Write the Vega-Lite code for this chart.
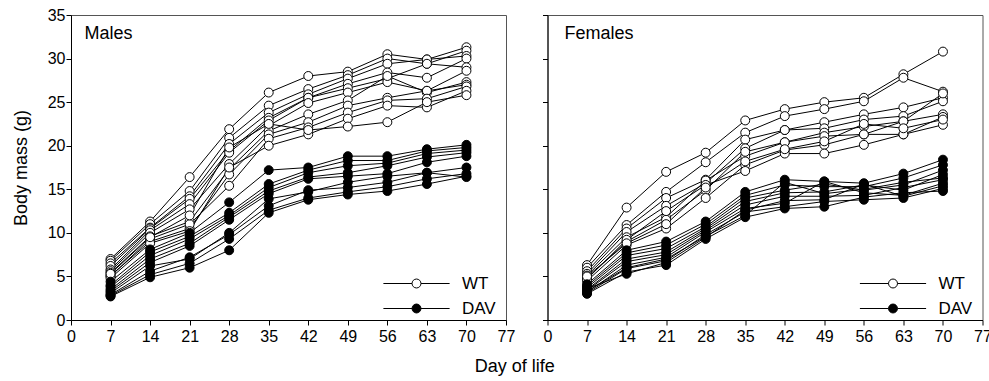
{
"$schema": "https://vega.github.io/schema/vega-lite/v6.json",
"padding": {"left": 11, "top": 6, "right": 0, "bottom": 5},
"title": {"text": "Day of life", "orient": "bottom", "anchor": "middle", "fontSize": 18, "fontWeight": "normal", "font": "Liberation Sans", "color": "black", "offset": 13, "dx": 13},
"spacing": 25.5,
"data": {"values": [
{"sex":"Males","geno":"WT","id":"mw1","day":7,"mass":7.0},{"sex":"Males","geno":"WT","id":"mw1","day":14,"mass":11.3},{"sex":"Males","geno":"WT","id":"mw1","day":21,"mass":16.4},{"sex":"Males","geno":"WT","id":"mw1","day":28,"mass":21.9},{"sex":"Males","geno":"WT","id":"mw1","day":35,"mass":26.1},{"sex":"Males","geno":"WT","id":"mw1","day":42,"mass":28.0},{"sex":"Males","geno":"WT","id":"mw1","day":49,"mass":28.5},{"sex":"Males","geno":"WT","id":"mw1","day":56,"mass":30.5},{"sex":"Males","geno":"WT","id":"mw1","day":63,"mass":29.9},{"sex":"Males","geno":"WT","id":"mw1","day":70,"mass":31.3},
{"sex":"Males","geno":"WT","id":"mw2","day":7,"mass":6.8},{"sex":"Males","geno":"WT","id":"mw2","day":14,"mass":11.0},{"sex":"Males","geno":"WT","id":"mw2","day":21,"mass":14.8},{"sex":"Males","geno":"WT","id":"mw2","day":28,"mass":20.9},{"sex":"Males","geno":"WT","id":"mw2","day":35,"mass":24.6},{"sex":"Males","geno":"WT","id":"mw2","day":42,"mass":26.5},{"sex":"Males","geno":"WT","id":"mw2","day":49,"mass":28.1},{"sex":"Males","geno":"WT","id":"mw2","day":56,"mass":30.0},{"sex":"Males","geno":"WT","id":"mw2","day":63,"mass":29.4},{"sex":"Males","geno":"WT","id":"mw2","day":70,"mass":30.9},
{"sex":"Males","geno":"WT","id":"mw3","day":7,"mass":6.5},{"sex":"Males","geno":"WT","id":"mw3","day":14,"mass":10.6},{"sex":"Males","geno":"WT","id":"mw3","day":21,"mass":14.2},{"sex":"Males","geno":"WT","id":"mw3","day":28,"mass":20.2},{"sex":"Males","geno":"WT","id":"mw3","day":35,"mass":23.8},{"sex":"Males","geno":"WT","id":"mw3","day":42,"mass":25.9},{"sex":"Males","geno":"WT","id":"mw3","day":49,"mass":27.7},{"sex":"Males","geno":"WT","id":"mw3","day":56,"mass":29.4},{"sex":"Males","geno":"WT","id":"mw3","day":63,"mass":29.9},{"sex":"Males","geno":"WT","id":"mw3","day":70,"mass":30.3},
{"sex":"Males","geno":"WT","id":"mw4","day":7,"mass":6.2},{"sex":"Males","geno":"WT","id":"mw4","day":14,"mass":10.5},{"sex":"Males","geno":"WT","id":"mw4","day":21,"mass":13.9},{"sex":"Males","geno":"WT","id":"mw4","day":28,"mass":19.4},{"sex":"Males","geno":"WT","id":"mw4","day":35,"mass":23.2},{"sex":"Males","geno":"WT","id":"mw4","day":42,"mass":25.5},{"sex":"Males","geno":"WT","id":"mw4","day":49,"mass":27.1},{"sex":"Males","geno":"WT","id":"mw4","day":56,"mass":28.4},{"sex":"Males","geno":"WT","id":"mw4","day":63,"mass":27.8},{"sex":"Males","geno":"WT","id":"mw4","day":70,"mass":30.0},
{"sex":"Males","geno":"WT","id":"mw5","day":7,"mass":5.8},{"sex":"Males","geno":"WT","id":"mw5","day":14,"mass":10.3},{"sex":"Males","geno":"WT","id":"mw5","day":21,"mass":13.3},{"sex":"Males","geno":"WT","id":"mw5","day":28,"mass":19.2},{"sex":"Males","geno":"WT","id":"mw5","day":35,"mass":22.9},{"sex":"Males","geno":"WT","id":"mw5","day":42,"mass":25.5},{"sex":"Males","geno":"WT","id":"mw5","day":49,"mass":26.6},{"sex":"Males","geno":"WT","id":"mw5","day":56,"mass":27.7},{"sex":"Males","geno":"WT","id":"mw5","day":63,"mass":29.4},{"sex":"Males","geno":"WT","id":"mw5","day":70,"mass":29.0},
{"sex":"Males","geno":"WT","id":"mw6","day":7,"mass":5.6},{"sex":"Males","geno":"WT","id":"mw6","day":14,"mass":10.0},{"sex":"Males","geno":"WT","id":"mw6","day":21,"mass":12.7},{"sex":"Males","geno":"WT","id":"mw6","day":28,"mass":17.9},{"sex":"Males","geno":"WT","id":"mw6","day":35,"mass":22.3},{"sex":"Males","geno":"WT","id":"mw6","day":42,"mass":24.9},{"sex":"Males","geno":"WT","id":"mw6","day":49,"mass":26.1},{"sex":"Males","geno":"WT","id":"mw6","day":56,"mass":27.3},{"sex":"Males","geno":"WT","id":"mw6","day":63,"mass":26.3},{"sex":"Males","geno":"WT","id":"mw6","day":70,"mass":28.6},
{"sex":"Males","geno":"WT","id":"mw7","day":7,"mass":5.4},{"sex":"Males","geno":"WT","id":"mw7","day":14,"mass":9.6},{"sex":"Males","geno":"WT","id":"mw7","day":21,"mass":11.3},{"sex":"Males","geno":"WT","id":"mw7","day":28,"mass":17.3},{"sex":"Males","geno":"WT","id":"mw7","day":35,"mass":21.7},{"sex":"Males","geno":"WT","id":"mw7","day":42,"mass":23.6},{"sex":"Males","geno":"WT","id":"mw7","day":49,"mass":25.2},{"sex":"Males","geno":"WT","id":"mw7","day":56,"mass":28.0},{"sex":"Males","geno":"WT","id":"mw7","day":63,"mass":26.1},{"sex":"Males","geno":"WT","id":"mw7","day":70,"mass":27.3},
{"sex":"Males","geno":"WT","id":"mw8","day":7,"mass":5.1},{"sex":"Males","geno":"WT","id":"mw8","day":14,"mass":9.0},{"sex":"Males","geno":"WT","id":"mw8","day":21,"mass":10.5},{"sex":"Males","geno":"WT","id":"mw8","day":28,"mass":16.7},{"sex":"Males","geno":"WT","id":"mw8","day":35,"mass":21.3},{"sex":"Males","geno":"WT","id":"mw8","day":42,"mass":22.7},{"sex":"Males","geno":"WT","id":"mw8","day":49,"mass":24.6},{"sex":"Males","geno":"WT","id":"mw8","day":56,"mass":25.5},{"sex":"Males","geno":"WT","id":"mw8","day":63,"mass":26.3},{"sex":"Males","geno":"WT","id":"mw8","day":70,"mass":27.0},
{"sex":"Males","geno":"WT","id":"mw9","day":7,"mass":5.0},{"sex":"Males","geno":"WT","id":"mw9","day":14,"mass":9.3},{"sex":"Males","geno":"WT","id":"mw9","day":21,"mass":11.0},{"sex":"Males","geno":"WT","id":"mw9","day":28,"mass":15.4},{"sex":"Males","geno":"WT","id":"mw9","day":35,"mass":20.8},{"sex":"Males","geno":"WT","id":"mw9","day":42,"mass":22.1},{"sex":"Males","geno":"WT","id":"mw9","day":49,"mass":23.8},{"sex":"Males","geno":"WT","id":"mw9","day":56,"mass":25.2},{"sex":"Males","geno":"WT","id":"mw9","day":63,"mass":25.4},{"sex":"Males","geno":"WT","id":"mw9","day":70,"mass":26.8},
{"sex":"Males","geno":"WT","id":"mw10","day":7,"mass":4.8},{"sex":"Males","geno":"WT","id":"mw10","day":14,"mass":8.8},{"sex":"Males","geno":"WT","id":"mw10","day":21,"mass":10.2},{"sex":"Males","geno":"WT","id":"mw10","day":28,"mass":17.5},{"sex":"Males","geno":"WT","id":"mw10","day":35,"mass":20.0},{"sex":"Males","geno":"WT","id":"mw10","day":42,"mass":21.3},{"sex":"Males","geno":"WT","id":"mw10","day":49,"mass":23.1},{"sex":"Males","geno":"WT","id":"mw10","day":56,"mass":24.6},{"sex":"Males","geno":"WT","id":"mw10","day":63,"mass":24.4},{"sex":"Males","geno":"WT","id":"mw10","day":70,"mass":26.3},
{"sex":"Males","geno":"WT","id":"mw11","day":7,"mass":5.3},{"sex":"Males","geno":"WT","id":"mw11","day":14,"mass":9.5},{"sex":"Males","geno":"WT","id":"mw11","day":21,"mass":12.0},{"sex":"Males","geno":"WT","id":"mw11","day":28,"mass":19.8},{"sex":"Males","geno":"WT","id":"mw11","day":35,"mass":22.5},{"sex":"Males","geno":"WT","id":"mw11","day":42,"mass":21.8},{"sex":"Males","geno":"WT","id":"mw11","day":49,"mass":22.2},{"sex":"Males","geno":"WT","id":"mw11","day":56,"mass":22.7},{"sex":"Males","geno":"WT","id":"mw11","day":63,"mass":25.0},{"sex":"Males","geno":"WT","id":"mw11","day":70,"mass":25.8},
{"sex":"Males","geno":"DAV","id":"md1","day":7,"mass":4.4},{"sex":"Males","geno":"DAV","id":"md1","day":14,"mass":8.1},{"sex":"Males","geno":"DAV","id":"md1","day":21,"mass":10.0},{"sex":"Males","geno":"DAV","id":"md1","day":28,"mass":13.5},{"sex":"Males","geno":"DAV","id":"md1","day":35,"mass":17.2},{"sex":"Males","geno":"DAV","id":"md1","day":42,"mass":17.5},{"sex":"Males","geno":"DAV","id":"md1","day":49,"mass":18.8},{"sex":"Males","geno":"DAV","id":"md1","day":56,"mass":18.8},{"sex":"Males","geno":"DAV","id":"md1","day":63,"mass":19.6},{"sex":"Males","geno":"DAV","id":"md1","day":70,"mass":20.1},
{"sex":"Males","geno":"DAV","id":"md2","day":7,"mass":4.0},{"sex":"Males","geno":"DAV","id":"md2","day":14,"mass":7.8},{"sex":"Males","geno":"DAV","id":"md2","day":21,"mass":9.6},{"sex":"Males","geno":"DAV","id":"md2","day":28,"mass":12.3},{"sex":"Males","geno":"DAV","id":"md2","day":35,"mass":15.6},{"sex":"Males","geno":"DAV","id":"md2","day":42,"mass":17.2},{"sex":"Males","geno":"DAV","id":"md2","day":49,"mass":18.3},{"sex":"Males","geno":"DAV","id":"md2","day":56,"mass":18.3},{"sex":"Males","geno":"DAV","id":"md2","day":63,"mass":19.4},{"sex":"Males","geno":"DAV","id":"md2","day":70,"mass":19.8},
{"sex":"Males","geno":"DAV","id":"md3","day":7,"mass":3.8},{"sex":"Males","geno":"DAV","id":"md3","day":14,"mass":7.4},{"sex":"Males","geno":"DAV","id":"md3","day":21,"mass":9.3},{"sex":"Males","geno":"DAV","id":"md3","day":28,"mass":12.0},{"sex":"Males","geno":"DAV","id":"md3","day":35,"mass":15.2},{"sex":"Males","geno":"DAV","id":"md3","day":42,"mass":16.9},{"sex":"Males","geno":"DAV","id":"md3","day":49,"mass":17.7},{"sex":"Males","geno":"DAV","id":"md3","day":56,"mass":18.0},{"sex":"Males","geno":"DAV","id":"md3","day":63,"mass":19.1},{"sex":"Males","geno":"DAV","id":"md3","day":70,"mass":19.5},
{"sex":"Males","geno":"DAV","id":"md4","day":7,"mass":3.5},{"sex":"Males","geno":"DAV","id":"md4","day":14,"mass":7.0},{"sex":"Males","geno":"DAV","id":"md4","day":21,"mass":8.8},{"sex":"Males","geno":"DAV","id":"md4","day":28,"mass":11.8},{"sex":"Males","geno":"DAV","id":"md4","day":35,"mass":14.8},{"sex":"Males","geno":"DAV","id":"md4","day":42,"mass":16.4},{"sex":"Males","geno":"DAV","id":"md4","day":49,"mass":16.9},{"sex":"Males","geno":"DAV","id":"md4","day":56,"mass":17.7},{"sex":"Males","geno":"DAV","id":"md4","day":63,"mass":18.7},{"sex":"Males","geno":"DAV","id":"md4","day":70,"mass":19.2},
{"sex":"Males","geno":"DAV","id":"md5","day":7,"mass":3.3},{"sex":"Males","geno":"DAV","id":"md5","day":14,"mass":6.6},{"sex":"Males","geno":"DAV","id":"md5","day":21,"mass":8.5},{"sex":"Males","geno":"DAV","id":"md5","day":28,"mass":11.5},{"sex":"Males","geno":"DAV","id":"md5","day":35,"mass":14.5},{"sex":"Males","geno":"DAV","id":"md5","day":42,"mass":16.2},{"sex":"Males","geno":"DAV","id":"md5","day":49,"mass":16.5},{"sex":"Males","geno":"DAV","id":"md5","day":56,"mass":16.8},{"sex":"Males","geno":"DAV","id":"md5","day":63,"mass":18.1},{"sex":"Males","geno":"DAV","id":"md5","day":70,"mass":18.8},
{"sex":"Males","geno":"DAV","id":"md6","day":7,"mass":3.1},{"sex":"Males","geno":"DAV","id":"md6","day":14,"mass":6.2},{"sex":"Males","geno":"DAV","id":"md6","day":21,"mass":7.0},{"sex":"Males","geno":"DAV","id":"md6","day":28,"mass":10.0},{"sex":"Males","geno":"DAV","id":"md6","day":35,"mass":13.9},{"sex":"Males","geno":"DAV","id":"md6","day":42,"mass":14.7},{"sex":"Males","geno":"DAV","id":"md6","day":49,"mass":15.8},{"sex":"Males","geno":"DAV","id":"md6","day":56,"mass":16.5},{"sex":"Males","geno":"DAV","id":"md6","day":63,"mass":16.9},{"sex":"Males","geno":"DAV","id":"md6","day":70,"mass":17.5},
{"sex":"Males","geno":"DAV","id":"md7","day":7,"mass":2.9},{"sex":"Males","geno":"DAV","id":"md7","day":14,"mass":5.6},{"sex":"Males","geno":"DAV","id":"md7","day":21,"mass":7.2},{"sex":"Males","geno":"DAV","id":"md7","day":28,"mass":9.8},{"sex":"Males","geno":"DAV","id":"md7","day":35,"mass":13.1},{"sex":"Males","geno":"DAV","id":"md7","day":42,"mass":14.9},{"sex":"Males","geno":"DAV","id":"md7","day":49,"mass":15.2},{"sex":"Males","geno":"DAV","id":"md7","day":56,"mass":15.8},{"sex":"Males","geno":"DAV","id":"md7","day":63,"mass":16.9},{"sex":"Males","geno":"DAV","id":"md7","day":70,"mass":16.4},
{"sex":"Males","geno":"DAV","id":"md8","day":7,"mass":2.8},{"sex":"Males","geno":"DAV","id":"md8","day":14,"mass":5.2},{"sex":"Males","geno":"DAV","id":"md8","day":21,"mass":6.5},{"sex":"Males","geno":"DAV","id":"md8","day":28,"mass":9.3},{"sex":"Males","geno":"DAV","id":"md8","day":35,"mass":12.6},{"sex":"Males","geno":"DAV","id":"md8","day":42,"mass":14.0},{"sex":"Males","geno":"DAV","id":"md8","day":49,"mass":14.7},{"sex":"Males","geno":"DAV","id":"md8","day":56,"mass":15.3},{"sex":"Males","geno":"DAV","id":"md8","day":63,"mass":16.2},{"sex":"Males","geno":"DAV","id":"md8","day":70,"mass":16.8},
{"sex":"Males","geno":"DAV","id":"md9","day":7,"mass":2.7},{"sex":"Males","geno":"DAV","id":"md9","day":14,"mass":4.9},{"sex":"Males","geno":"DAV","id":"md9","day":21,"mass":6.0},{"sex":"Males","geno":"DAV","id":"md9","day":28,"mass":8.0},{"sex":"Males","geno":"DAV","id":"md9","day":35,"mass":12.3},{"sex":"Males","geno":"DAV","id":"md9","day":42,"mass":13.8},{"sex":"Males","geno":"DAV","id":"md9","day":49,"mass":14.4},{"sex":"Males","geno":"DAV","id":"md9","day":56,"mass":14.8},{"sex":"Males","geno":"DAV","id":"md9","day":63,"mass":15.6},{"sex":"Males","geno":"DAV","id":"md9","day":70,"mass":16.5},
{"sex":"Females","geno":"WT","id":"fw1","day":7,"mass":6.3},{"sex":"Females","geno":"WT","id":"fw1","day":14,"mass":12.9},{"sex":"Females","geno":"WT","id":"fw1","day":21,"mass":17.0},{"sex":"Females","geno":"WT","id":"fw1","day":28,"mass":19.2},{"sex":"Females","geno":"WT","id":"fw1","day":35,"mass":22.9},{"sex":"Females","geno":"WT","id":"fw1","day":42,"mass":24.2},{"sex":"Females","geno":"WT","id":"fw1","day":49,"mass":25.0},{"sex":"Females","geno":"WT","id":"fw1","day":56,"mass":25.5},{"sex":"Females","geno":"WT","id":"fw1","day":63,"mass":28.2},{"sex":"Females","geno":"WT","id":"fw1","day":70,"mass":30.8},
{"sex":"Females","geno":"WT","id":"fw2","day":7,"mass":6.0},{"sex":"Females","geno":"WT","id":"fw2","day":14,"mass":10.9},{"sex":"Females","geno":"WT","id":"fw2","day":21,"mass":14.7},{"sex":"Females","geno":"WT","id":"fw2","day":28,"mass":18.1},{"sex":"Females","geno":"WT","id":"fw2","day":35,"mass":21.5},{"sex":"Females","geno":"WT","id":"fw2","day":42,"mass":23.4},{"sex":"Females","geno":"WT","id":"fw2","day":49,"mass":24.2},{"sex":"Females","geno":"WT","id":"fw2","day":56,"mass":25.1},{"sex":"Females","geno":"WT","id":"fw2","day":63,"mass":27.8},{"sex":"Females","geno":"WT","id":"fw2","day":70,"mass":26.2},
{"sex":"Females","geno":"WT","id":"fw3","day":7,"mass":5.6},{"sex":"Females","geno":"WT","id":"fw3","day":14,"mass":10.5},{"sex":"Females","geno":"WT","id":"fw3","day":21,"mass":14.0},{"sex":"Females","geno":"WT","id":"fw3","day":28,"mass":16.1},{"sex":"Females","geno":"WT","id":"fw3","day":35,"mass":20.7},{"sex":"Females","geno":"WT","id":"fw3","day":42,"mass":21.8},{"sex":"Females","geno":"WT","id":"fw3","day":49,"mass":22.7},{"sex":"Females","geno":"WT","id":"fw3","day":56,"mass":23.6},{"sex":"Females","geno":"WT","id":"fw3","day":63,"mass":24.4},{"sex":"Females","geno":"WT","id":"fw3","day":70,"mass":25.5},
{"sex":"Females","geno":"WT","id":"fw4","day":7,"mass":5.3},{"sex":"Females","geno":"WT","id":"fw4","day":14,"mass":10.1},{"sex":"Females","geno":"WT","id":"fw4","day":21,"mass":13.1},{"sex":"Females","geno":"WT","id":"fw4","day":28,"mass":15.7},{"sex":"Females","geno":"WT","id":"fw4","day":35,"mass":19.7},{"sex":"Females","geno":"WT","id":"fw4","day":42,"mass":21.8},{"sex":"Females","geno":"WT","id":"fw4","day":49,"mass":22.0},{"sex":"Females","geno":"WT","id":"fw4","day":56,"mass":23.0},{"sex":"Females","geno":"WT","id":"fw4","day":63,"mass":23.4},{"sex":"Females","geno":"WT","id":"fw4","day":70,"mass":25.1},
{"sex":"Females","geno":"WT","id":"fw5","day":7,"mass":5.1},{"sex":"Females","geno":"WT","id":"fw5","day":14,"mass":9.5},{"sex":"Females","geno":"WT","id":"fw5","day":21,"mass":11.8},{"sex":"Females","geno":"WT","id":"fw5","day":28,"mass":16.0},{"sex":"Females","geno":"WT","id":"fw5","day":35,"mass":18.8},{"sex":"Females","geno":"WT","id":"fw5","day":42,"mass":20.4},{"sex":"Females","geno":"WT","id":"fw5","day":49,"mass":21.5},{"sex":"Females","geno":"WT","id":"fw5","day":56,"mass":22.2},{"sex":"Females","geno":"WT","id":"fw5","day":63,"mass":22.8},{"sex":"Females","geno":"WT","id":"fw5","day":70,"mass":26.0},
{"sex":"Females","geno":"WT","id":"fw6","day":7,"mass":4.8},{"sex":"Females","geno":"WT","id":"fw6","day":14,"mass":9.0},{"sex":"Females","geno":"WT","id":"fw6","day":21,"mass":11.5},{"sex":"Females","geno":"WT","id":"fw6","day":28,"mass":14.9},{"sex":"Females","geno":"WT","id":"fw6","day":35,"mass":19.3},{"sex":"Females","geno":"WT","id":"fw6","day":42,"mass":20.4},{"sex":"Females","geno":"WT","id":"fw6","day":49,"mass":21.1},{"sex":"Females","geno":"WT","id":"fw6","day":56,"mass":21.3},{"sex":"Females","geno":"WT","id":"fw6","day":63,"mass":22.8},{"sex":"Females","geno":"WT","id":"fw6","day":70,"mass":23.6},
{"sex":"Females","geno":"WT","id":"fw7","day":7,"mass":4.5},{"sex":"Females","geno":"WT","id":"fw7","day":14,"mass":8.6},{"sex":"Females","geno":"WT","id":"fw7","day":21,"mass":10.5},{"sex":"Females","geno":"WT","id":"fw7","day":28,"mass":14.0},{"sex":"Females","geno":"WT","id":"fw7","day":35,"mass":17.8},{"sex":"Females","geno":"WT","id":"fw7","day":42,"mass":19.5},{"sex":"Females","geno":"WT","id":"fw7","day":49,"mass":20.1},{"sex":"Females","geno":"WT","id":"fw7","day":56,"mass":21.3},{"sex":"Females","geno":"WT","id":"fw7","day":63,"mass":21.3},{"sex":"Females","geno":"WT","id":"fw7","day":70,"mass":23.3},
{"sex":"Females","geno":"WT","id":"fw8","day":7,"mass":4.7},{"sex":"Females","geno":"WT","id":"fw8","day":14,"mass":9.2},{"sex":"Females","geno":"WT","id":"fw8","day":21,"mass":12.5},{"sex":"Females","geno":"WT","id":"fw8","day":28,"mass":15.5},{"sex":"Females","geno":"WT","id":"fw8","day":35,"mass":17.1},{"sex":"Females","geno":"WT","id":"fw8","day":42,"mass":19.1},{"sex":"Females","geno":"WT","id":"fw8","day":49,"mass":19.1},{"sex":"Females","geno":"WT","id":"fw8","day":56,"mass":20.1},{"sex":"Females","geno":"WT","id":"fw8","day":63,"mass":21.3},{"sex":"Females","geno":"WT","id":"fw8","day":70,"mass":22.4},
{"sex":"Females","geno":"WT","id":"fw9","day":7,"mass":5.0},{"sex":"Females","geno":"WT","id":"fw9","day":14,"mass":8.8},{"sex":"Females","geno":"WT","id":"fw9","day":21,"mass":11.0},{"sex":"Females","geno":"WT","id":"fw9","day":28,"mass":15.2},{"sex":"Females","geno":"WT","id":"fw9","day":35,"mass":18.2},{"sex":"Females","geno":"WT","id":"fw9","day":42,"mass":19.6},{"sex":"Females","geno":"WT","id":"fw9","day":49,"mass":20.5},{"sex":"Females","geno":"WT","id":"fw9","day":56,"mass":22.5},{"sex":"Females","geno":"WT","id":"fw9","day":63,"mass":22.0},{"sex":"Females","geno":"WT","id":"fw9","day":70,"mass":23.0},
{"sex":"Females","geno":"DAV","id":"fd1","day":7,"mass":4.1},{"sex":"Females","geno":"DAV","id":"fd1","day":14,"mass":8.0},{"sex":"Females","geno":"DAV","id":"fd1","day":21,"mass":9.0},{"sex":"Females","geno":"DAV","id":"fd1","day":28,"mass":11.3},{"sex":"Females","geno":"DAV","id":"fd1","day":35,"mass":14.7},{"sex":"Females","geno":"DAV","id":"fd1","day":42,"mass":16.1},{"sex":"Females","geno":"DAV","id":"fd1","day":49,"mass":15.9},{"sex":"Females","geno":"DAV","id":"fd1","day":56,"mass":15.7},{"sex":"Females","geno":"DAV","id":"fd1","day":63,"mass":16.8},{"sex":"Females","geno":"DAV","id":"fd1","day":70,"mass":18.4},
{"sex":"Females","geno":"DAV","id":"fd2","day":7,"mass":3.9},{"sex":"Females","geno":"DAV","id":"fd2","day":14,"mass":7.7},{"sex":"Females","geno":"DAV","id":"fd2","day":21,"mass":8.6},{"sex":"Females","geno":"DAV","id":"fd2","day":28,"mass":11.0},{"sex":"Females","geno":"DAV","id":"fd2","day":35,"mass":14.3},{"sex":"Females","geno":"DAV","id":"fd2","day":42,"mass":15.5},{"sex":"Females","geno":"DAV","id":"fd2","day":49,"mass":15.3},{"sex":"Females","geno":"DAV","id":"fd2","day":56,"mass":15.3},{"sex":"Females","geno":"DAV","id":"fd2","day":63,"mass":16.3},{"sex":"Females","geno":"DAV","id":"fd2","day":70,"mass":17.8},
{"sex":"Females","geno":"DAV","id":"fd3","day":7,"mass":3.7},{"sex":"Females","geno":"DAV","id":"fd3","day":14,"mass":7.4},{"sex":"Females","geno":"DAV","id":"fd3","day":21,"mass":8.2},{"sex":"Females","geno":"DAV","id":"fd3","day":28,"mass":10.7},{"sex":"Females","geno":"DAV","id":"fd3","day":35,"mass":14.0},{"sex":"Females","geno":"DAV","id":"fd3","day":42,"mass":14.9},{"sex":"Females","geno":"DAV","id":"fd3","day":49,"mass":15.6},{"sex":"Females","geno":"DAV","id":"fd3","day":56,"mass":14.9},{"sex":"Females","geno":"DAV","id":"fd3","day":63,"mass":15.5},{"sex":"Females","geno":"DAV","id":"fd3","day":70,"mass":17.2},
{"sex":"Females","geno":"DAV","id":"fd4","day":7,"mass":3.5},{"sex":"Females","geno":"DAV","id":"fd4","day":14,"mass":7.0},{"sex":"Females","geno":"DAV","id":"fd4","day":21,"mass":7.8},{"sex":"Females","geno":"DAV","id":"fd4","day":28,"mass":10.5},{"sex":"Females","geno":"DAV","id":"fd4","day":35,"mass":13.6},{"sex":"Females","geno":"DAV","id":"fd4","day":42,"mass":14.6},{"sex":"Females","geno":"DAV","id":"fd4","day":49,"mass":14.7},{"sex":"Females","geno":"DAV","id":"fd4","day":56,"mass":15.5},{"sex":"Females","geno":"DAV","id":"fd4","day":63,"mass":14.9},{"sex":"Females","geno":"DAV","id":"fd4","day":70,"mass":16.7},
{"sex":"Females","geno":"DAV","id":"fd5","day":7,"mass":3.4},{"sex":"Females","geno":"DAV","id":"fd5","day":14,"mass":6.7},{"sex":"Females","geno":"DAV","id":"fd5","day":21,"mass":7.5},{"sex":"Females","geno":"DAV","id":"fd5","day":28,"mass":10.3},{"sex":"Females","geno":"DAV","id":"fd5","day":35,"mass":13.2},{"sex":"Females","geno":"DAV","id":"fd5","day":42,"mass":14.2},{"sex":"Females","geno":"DAV","id":"fd5","day":49,"mass":14.2},{"sex":"Females","geno":"DAV","id":"fd5","day":56,"mass":14.3},{"sex":"Females","geno":"DAV","id":"fd5","day":63,"mass":15.2},{"sex":"Females","geno":"DAV","id":"fd5","day":70,"mass":16.1},
{"sex":"Females","geno":"DAV","id":"fd6","day":7,"mass":3.2},{"sex":"Females","geno":"DAV","id":"fd6","day":14,"mass":6.3},{"sex":"Females","geno":"DAV","id":"fd6","day":21,"mass":7.2},{"sex":"Females","geno":"DAV","id":"fd6","day":28,"mass":10.1},{"sex":"Females","geno":"DAV","id":"fd6","day":35,"mass":12.8},{"sex":"Females","geno":"DAV","id":"fd6","day":42,"mass":13.4},{"sex":"Females","geno":"DAV","id":"fd6","day":49,"mass":15.9},{"sex":"Females","geno":"DAV","id":"fd6","day":56,"mass":14.6},{"sex":"Females","geno":"DAV","id":"fd6","day":63,"mass":14.3},{"sex":"Females","geno":"DAV","id":"fd6","day":70,"mass":15.7},
{"sex":"Females","geno":"DAV","id":"fd7","day":7,"mass":3.1},{"sex":"Females","geno":"DAV","id":"fd7","day":14,"mass":5.9},{"sex":"Females","geno":"DAV","id":"fd7","day":21,"mass":6.8},{"sex":"Females","geno":"DAV","id":"fd7","day":28,"mass":9.8},{"sex":"Females","geno":"DAV","id":"fd7","day":35,"mass":12.4},{"sex":"Females","geno":"DAV","id":"fd7","day":42,"mass":13.0},{"sex":"Females","geno":"DAV","id":"fd7","day":49,"mass":13.6},{"sex":"Females","geno":"DAV","id":"fd7","day":56,"mass":13.8},{"sex":"Females","geno":"DAV","id":"fd7","day":63,"mass":14.0},{"sex":"Females","geno":"DAV","id":"fd7","day":70,"mass":15.1},
{"sex":"Females","geno":"DAV","id":"fd8","day":7,"mass":3.0},{"sex":"Females","geno":"DAV","id":"fd8","day":14,"mass":5.5},{"sex":"Females","geno":"DAV","id":"fd8","day":21,"mass":6.3},{"sex":"Females","geno":"DAV","id":"fd8","day":28,"mass":9.3},{"sex":"Females","geno":"DAV","id":"fd8","day":35,"mass":11.8},{"sex":"Females","geno":"DAV","id":"fd8","day":42,"mass":12.8},{"sex":"Females","geno":"DAV","id":"fd8","day":49,"mass":13.0},{"sex":"Females","geno":"DAV","id":"fd8","day":56,"mass":14.1},{"sex":"Females","geno":"DAV","id":"fd8","day":63,"mass":14.6},{"sex":"Females","geno":"DAV","id":"fd8","day":70,"mass":14.8},
{"sex":"Females","geno":"DAV","id":"fd9","day":7,"mass":3.3},{"sex":"Females","geno":"DAV","id":"fd9","day":14,"mass":6.0},{"sex":"Females","geno":"DAV","id":"fd9","day":21,"mass":7.0},{"sex":"Females","geno":"DAV","id":"fd9","day":28,"mass":9.6},{"sex":"Females","geno":"DAV","id":"fd9","day":35,"mass":12.0},{"sex":"Females","geno":"DAV","id":"fd9","day":42,"mass":15.8},{"sex":"Females","geno":"DAV","id":"fd9","day":49,"mass":14.5},{"sex":"Females","geno":"DAV","id":"fd9","day":56,"mass":15.0},{"sex":"Females","geno":"DAV","id":"fd9","day":63,"mass":15.8},{"sex":"Females","geno":"DAV","id":"fd9","day":70,"mass":16.3},
{"sex":"Females","geno":"DAV","id":"fd10","day":7,"mass":3.6},{"sex":"Females","geno":"DAV","id":"fd10","day":14,"mass":5.3},{"sex":"Females","geno":"DAV","id":"fd10","day":21,"mass":6.6},{"sex":"Females","geno":"DAV","id":"fd10","day":28,"mass":9.5},{"sex":"Females","geno":"DAV","id":"fd10","day":35,"mass":12.6},{"sex":"Females","geno":"DAV","id":"fd10","day":42,"mass":13.7},{"sex":"Females","geno":"DAV","id":"fd10","day":49,"mass":13.8},{"sex":"Females","geno":"DAV","id":"fd10","day":56,"mass":15.6},{"sex":"Females","geno":"DAV","id":"fd10","day":63,"mass":14.2},{"sex":"Females","geno":"DAV","id":"fd10","day":70,"mass":15.4}
]},
"hconcat": [
{
 "width": 435, "height": 305,
 "transform": [{"filter": "datum.sex === 'Males'"}],
 "encoding": {
  "x": {"field": "day", "type": "quantitative", "scale": {"domain": [0, 77], "nice": false}, "axis": {"values": [0,7,14,21,28,35,42,49,56,63,70,77], "title": null, "labelFlush": false, "labelOverlap": false, "labelPadding": 3}},
  "y": {"field": "mass", "type": "quantitative", "scale": {"domain": [0, 35], "nice": false}, "axis": {"values": [0,5,10,15,20,25,30,35], "title": "Body mass (g)", "titlePadding": 17, "labelOverlap": false, "labelPadding": 1}}
 },
 "layer": [
  {"mark": {"type": "line", "color": "black", "strokeWidth": 1},
   "encoding": {"detail": {"field": "id"}}},
  {"mark": {"type": "circle", "stroke": "black", "strokeWidth": 1, "opacity": 1, "size": 80},
   "encoding": {
    "fill": {"field": "geno", "type": "nominal", "scale": {"domain": ["WT", "DAV"], "range": ["white", "black"]}}}},
  {"data": {"values": [{"sex": "Males", "label": "Males", "day": 2.4, "mass": 32.2}]},
   "mark": {"type": "text", "align": "left", "baseline": "alphabetic", "fontSize": 18, "font": "Liberation Sans", "color": "black"},
   "encoding": {"text": {"field": "label"}}}
 ]
},
{
 "width": 435, "height": 305,
 "transform": [{"filter": "datum.sex === 'Females'"}],
 "encoding": {
  "x": {"field": "day", "type": "quantitative", "scale": {"domain": [0, 77], "nice": false}, "axis": {"values": [0,7,14,21,28,35,42,49,56,63,70,77], "title": null, "labelFlush": false, "labelOverlap": false, "labelPadding": 3}},
  "y": {"field": "mass", "type": "quantitative", "scale": {"domain": [0, 35], "nice": false}, "axis": {"values": [0,5,10,15,20,25,30,35], "title": null, "labels": false}}
 },
 "layer": [
  {"mark": {"type": "line", "color": "black", "strokeWidth": 1},
   "encoding": {"detail": {"field": "id"}}},
  {"mark": {"type": "circle", "stroke": "black", "strokeWidth": 1, "opacity": 1, "size": 80},
   "encoding": {
    "fill": {"field": "geno", "type": "nominal", "scale": {"domain": ["WT", "DAV"], "range": ["white", "black"]}}}},
  {"data": {"values": [{"sex": "Females", "label": "Females", "day": 3.0, "mass": 32.2}]},
   "mark": {"type": "text", "align": "left", "baseline": "alphabetic", "fontSize": 18, "font": "Liberation Sans", "color": "black"},
   "encoding": {"text": {"field": "label"}}}
 ]
}
],
"resolve": {"scale": {"fill": "independent"}, "legend": {"fill": "independent"}},
"config": {
 "font": "Liberation Sans",
 "view": {"stroke": "#555555", "strokeWidth": 1},
 "axis": {"grid": false, "domainColor": "black", "tickColor": "black", "labelColor": "black", "titleColor": "black", "labelFontSize": 16, "titleFontSize": 18, "titleFontWeight": "normal", "tickSize": 5, "labelPadding": 2, "labelFont": "Liberation Sans", "titleFont": "Liberation Sans", "labelOverlap": false},
 "legend": {"title": null, "orient": "none", "legendX": 337, "legendY": 260, "symbolType": "M-7.4,0H-1M1,0H7.4M1,0A1,1,0,1,1,-1,0A1,1,0,1,1,1,0Z", "symbolSize": 80, "symbolStrokeColor": "black", "symbolStrokeWidth": 1, "labelOffset": 37, "labelFontSize": 17, "labelFont": "Liberation Sans", "labelColor": "black", "rowPadding": 7}
}
}
